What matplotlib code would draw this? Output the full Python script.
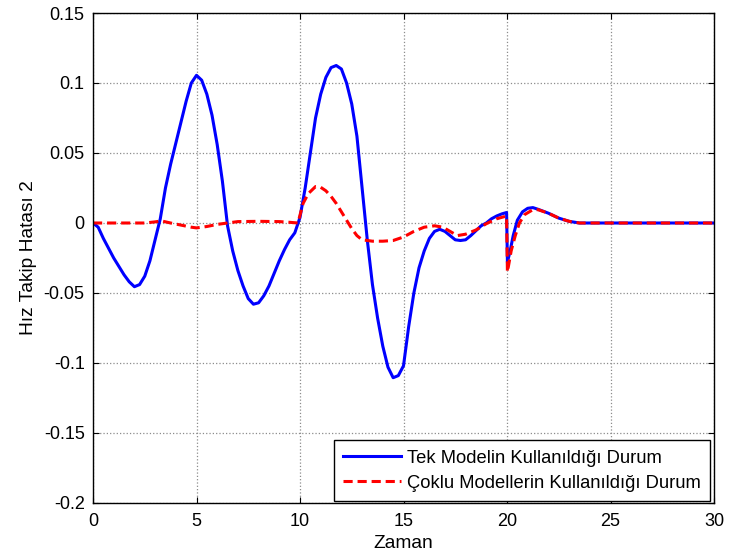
import matplotlib
matplotlib.use("Agg")
import matplotlib.pyplot as plt

# tek model (mavi) - okunan noktalar
t_tek = [0, 0.25, 0.5, 0.75, 1.0, 1.25, 1.5, 1.75, 2.0, 2.25, 2.5, 2.75, 3.0, 3.25,
         3.5, 3.75, 4.0, 4.25, 4.5, 4.75, 5.0, 5.25, 5.5, 5.75, 6.0, 6.25, 6.5, 6.75,
         7.0, 7.25, 7.5, 7.75, 8.0, 8.25, 8.5, 8.75, 9.0, 9.25, 9.5, 9.75, 10.0, 10.25,
         10.5, 10.75, 11.0, 11.25, 11.5, 11.75, 12.0, 12.25, 12.5, 12.75, 13.0, 13.25,
         13.5, 13.75, 14.0, 14.25, 14.5, 14.75, 15.0, 15.25, 15.5, 15.75, 16.0, 16.25,
         16.5, 16.75, 17.0, 17.25, 17.5, 17.75, 18.0, 18.25, 18.5, 18.75, 19.0, 19.25,
         19.5, 19.75, 19.98, 20.02, 20.15, 20.3, 20.5, 20.75, 21.0, 21.25, 21.5, 22.0,
         22.5, 23.0, 23.5, 30.0]
e_tek = [0, -0.003, -0.011, -0.018, -0.025, -0.031, -0.037, -0.042, -0.0455, -0.044,
         -0.038, -0.027, -0.012, 0.003, 0.025, 0.042, 0.057, 0.072, 0.087, 0.1, 0.1055,
         0.102, 0.092, 0.077, 0.056, 0.03, -0.002, -0.02, -0.034, -0.045, -0.054, -0.058,
         -0.057, -0.052, -0.045, -0.036, -0.027, -0.019, -0.012, -0.007, 0.004, 0.025,
         0.05, 0.075, 0.092, 0.104, 0.111, 0.1125, 0.11, 0.1, 0.085, 0.062, 0.025,
         -0.012, -0.044, -0.068, -0.088, -0.103, -0.1105, -0.109, -0.102, -0.074, -0.05,
         -0.032, -0.02, -0.011, -0.006, -0.0045, -0.006, -0.009, -0.012, -0.0125, -0.012,
         -0.009, -0.0055, -0.002, 0.0, 0.003, 0.005, 0.0065, 0.0075, -0.028, -0.02,
         -0.009, 0.002, 0.008, 0.0105, 0.011, 0.0098, 0.007, 0.0035, 0.0012, 0.0, 0.0]

# coklu model (kirmizi kesikli)
t_coklu = [0, 2.5, 3.0, 3.3, 3.75, 4.25, 4.75, 5.0, 5.5, 6.0, 6.5, 7.0, 8.0, 9.0, 9.5,
           9.9, 10.15, 10.4, 10.75, 11.0, 11.25, 11.5, 11.75, 12.0, 12.25, 12.5, 12.75,
           13.0, 13.5, 14.0, 14.5, 15.0, 15.5, 16.0, 16.5, 16.9, 17.25, 17.6, 18.0, 18.5,
           19.0, 19.5, 19.98, 20.02, 20.2, 20.4, 20.6, 20.85, 21.25, 21.5, 22.0, 22.5,
           23.0, 23.5, 30.0]
e_coklu = [0, 0.0, 0.0008, 0.0015, 0.0, -0.0015, -0.003, -0.0035, -0.0025, -0.001, 0.0,
           0.001, 0.0012, 0.001, 0.0005, 0.0, 0.014, 0.021, 0.026, 0.0255, 0.023, 0.019,
           0.014, 0.008, 0.002, -0.004, -0.009, -0.012, -0.013, -0.013, -0.0125, -0.01,
           -0.006, -0.003, -0.002, -0.003, -0.006, -0.009, -0.008, -0.005, -0.0005, 0.003,
           0.005, -0.035, -0.02, -0.009, 0.0, 0.006, 0.0095, 0.0095, 0.007, 0.0035, 0.0012,
           0.0, 0.0]

x_ticks = [0, 5, 10, 15, 20, 25, 30]
y_ticks = [-0.2, -0.15, -0.1, -0.05, 0, 0.05, 0.1, 0.15]
y_tick_labels = ["-0.2", "-0.15", "-0.1", "-0.05", "0", "0.05", "0.1", "0.15"]

plt.rcParams["font.family"] = ["Liberation Sans", "DejaVu Sans"]
plt.rcParams["font.size"] = 13

fig = plt.figure(figsize=(7.29, 5.59), dpi=100)
ax = fig.add_axes([93 / 729, 1 - 503 / 559, 621 / 729, 490 / 559])

ax.plot(t_tek, e_tek, color="#0000ff", lw=2.2, label="Tek Modelin Kullanıldığı Durum")
ax.plot(t_coklu, e_coklu, color="#ff0000", lw=2.2, dashes=(3, 1.6),
        label="Çoklu Modellerin Kullanıldığı Durum")

ax.set_xlim(0, 30)
ax.set_ylim(-0.2, 0.15)
ax.set_xticks(x_ticks)
ax.set_yticks(y_ticks)
ax.set_yticklabels(y_tick_labels)

ax.grid(True, color="#8c8c8c", linestyle=":", linewidth=0.9)
ax.tick_params(direction="in", length=4, top=True, right=True, width=0.8)
ax.tick_params(axis="x", pad=7)
ax.tick_params(axis="y", pad=6)
for s in ax.spines.values():
    s.set_linewidth(1.0)

ax.set_xlabel("Zaman", fontsize=13.8, labelpad=4)
ax.set_ylabel("Hız Takip Hatası 2", fontsize=13.8, labelpad=5)

leg = ax.legend(loc="lower right", bbox_to_anchor=((710 - 93) / 621, 2 / 490),
                borderaxespad=0, fancybox=False, framealpha=1, edgecolor="black",
                fontsize=13.2, handlelength=3.2, handletextpad=0.3, labelspacing=0.45,
                borderpad=0.5)
leg.get_frame().set_linewidth(1.0)

fig.savefig("out.png", dpi=100)
